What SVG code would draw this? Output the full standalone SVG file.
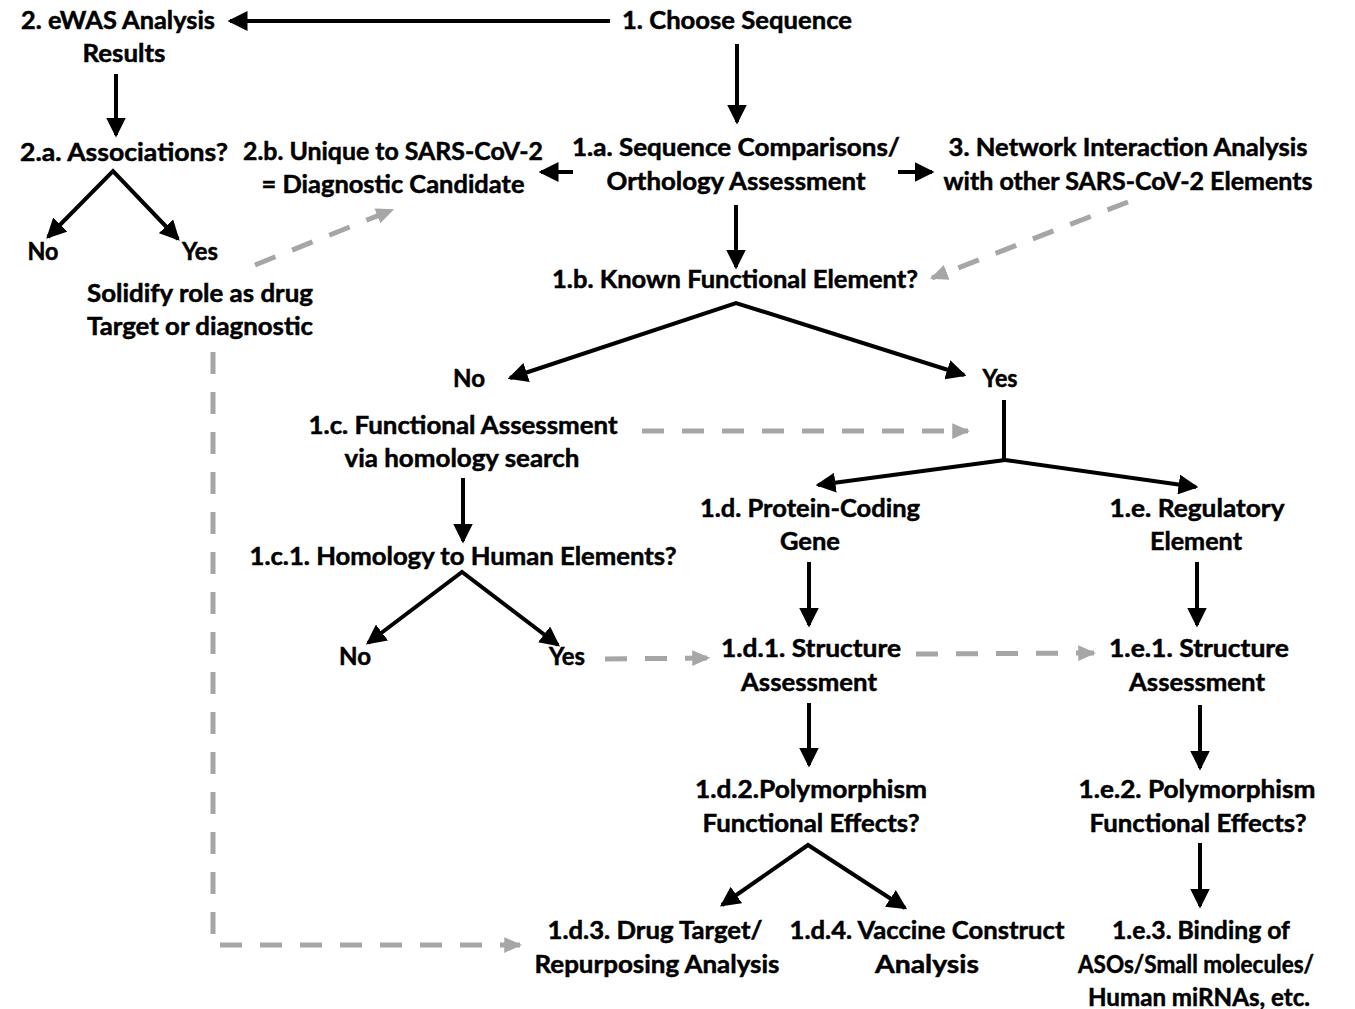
<svg xmlns="http://www.w3.org/2000/svg" width="1355" height="1009" viewBox="0 0 1355 1009">
<style>
text{font-family:Lato,"Open Sans","Liberation Sans",sans-serif;font-weight:700;font-size:25px;fill:#000;stroke:#000;stroke-width:0.5;text-anchor:middle}
.k{stroke:#000;stroke-width:4;fill:none;marker-end:url(#ak)}
.k2{stroke:#000;stroke-width:4;fill:none;stroke-linejoin:miter;marker-start:url(#aks);marker-end:url(#ak)}
.kn{stroke:#000;stroke-width:4;fill:none}
.g{stroke:#a6a6a6;stroke-width:5;fill:none;stroke-dasharray:22 18;marker-end:url(#ag)}
</style>
<defs>
<marker id="ak" markerUnits="userSpaceOnUse" markerWidth="20" markerHeight="20" viewBox="0 0 16 16" refX="14" refY="8" orient="auto"><path d="M0,0 L16,8 L0,16 Z" fill="#000"/></marker>
<marker id="aks" markerUnits="userSpaceOnUse" markerWidth="20" markerHeight="20" viewBox="0 0 16 16" refX="14" refY="8" orient="auto-start-reverse"><path d="M0,0 L16,8 L0,16 Z" fill="#000"/></marker>
<marker id="ag" markerUnits="userSpaceOnUse" markerWidth="18" markerHeight="18" viewBox="0 0 16 16" refX="14" refY="8" orient="auto"><path d="M0,1 L16,8 L0,15 Z" fill="#a6a6a6"/></marker>
</defs>
<g id="connectors">
<line class="k" x1="610" y1="21" x2="230" y2="21"/>
<line class="k" x1="737" y1="44" x2="737" y2="122"/>
<line class="k" x1="573" y1="172" x2="541" y2="172"/>
<line class="k" x1="898" y1="172" x2="932" y2="172"/>
<line class="k" x1="116" y1="74" x2="116" y2="135"/>
<path class="k2" d="M48,237 L113,171 L178,239"/>
<line class="g" x1="255" y1="265" x2="392" y2="210"/>
<line class="k" x1="736" y1="205" x2="736" y2="267"/>
<line class="g" x1="1128" y1="202" x2="932" y2="278"/>
<path class="k2" d="M510,378 L736,303 L964,375"/>
<line class="g" x1="642" y1="431" x2="968" y2="431"/>
<line class="kn" x1="1004" y1="400" x2="1004" y2="461"/>
<line class="k" x1="1005" y1="460" x2="818" y2="485"/>
<line class="k" x1="1005" y1="460" x2="1196" y2="487"/>
<line class="k" x1="463" y1="478" x2="463" y2="541"/>
<path class="k2" d="M368,643 L462,572 L558,645"/>
<line class="g" x1="605" y1="659" x2="708" y2="658"/>
<line class="k" x1="809" y1="562" x2="809" y2="625"/>
<line class="g" x1="916" y1="654" x2="1094" y2="653"/>
<line class="k" x1="1197" y1="562" x2="1197" y2="625"/>
<line class="k" x1="809" y1="703" x2="809" y2="765"/>
<line class="k" x1="1200" y1="705" x2="1200" y2="768"/>
<path class="k2" d="M722,905 L808,845 L905,908"/>
<line class="k" x1="1200" y1="843" x2="1200" y2="906"/>
<polyline class="g" points="213,352 213,945 520,945"/>
</g>
<g id="n2"><text x="118" y="29" textLength="194" lengthAdjust="spacingAndGlyphs">2. eWAS Analysis</text><text x="124" y="62" textLength="83" lengthAdjust="spacingAndGlyphs">Results</text></g>
<g id="n1"><text x="737" y="29" textLength="230" lengthAdjust="spacingAndGlyphs">1. Choose Sequence</text></g>
<g id="n1a"><text x="736" y="156" textLength="328" lengthAdjust="spacingAndGlyphs">1.a. Sequence Comparisons/</text><text x="736" y="190" textLength="259" lengthAdjust="spacingAndGlyphs">Orthology Assessment</text></g>
<g id="n2b"><text x="393" y="160" textLength="300" lengthAdjust="spacingAndGlyphs">2.b. Unique to SARS-CoV-2</text><text x="393" y="193" textLength="263" lengthAdjust="spacingAndGlyphs">= Diagnostic Candidate</text></g>
<g id="n3"><text x="1128" y="156" textLength="359" lengthAdjust="spacingAndGlyphs">3. Network Interaction Analysis</text><text x="1128" y="190" textLength="369" lengthAdjust="spacingAndGlyphs">with other SARS-CoV-2 Elements</text></g>
<g id="n2a"><text x="124" y="161" textLength="208" lengthAdjust="spacingAndGlyphs">2.a. Associations?</text></g>
<g id="n2aNo"><text x="43" y="260" textLength="31" lengthAdjust="spacingAndGlyphs">No</text></g>
<g id="n2aYes"><text x="200" y="260" textLength="36" lengthAdjust="spacingAndGlyphs">Yes</text></g>
<g id="nSolid"><text x="200" y="302" textLength="226" lengthAdjust="spacingAndGlyphs">Solidify role as drug</text><text x="200" y="335" textLength="226" lengthAdjust="spacingAndGlyphs">Target or diagnostic</text></g>
<g id="n1b"><text x="735" y="288" textLength="366" lengthAdjust="spacingAndGlyphs">1.b. Known Functional Element?</text></g>
<g id="n1bNo"><text x="469" y="387" textLength="32" lengthAdjust="spacingAndGlyphs">No</text></g>
<g id="n1bYes"><text x="1000" y="387" textLength="35" lengthAdjust="spacingAndGlyphs">Yes</text></g>
<g id="n1c"><text x="463" y="434" textLength="309" lengthAdjust="spacingAndGlyphs">1.c. Functional Assessment</text><text x="462" y="467" textLength="235" lengthAdjust="spacingAndGlyphs">via homology search</text></g>
<g id="n1d"><text x="810" y="517" textLength="220" lengthAdjust="spacingAndGlyphs">1.d. Protein-Coding</text><text x="810" y="550" textLength="60" lengthAdjust="spacingAndGlyphs">Gene</text></g>
<g id="n1e"><text x="1197" y="517" textLength="175" lengthAdjust="spacingAndGlyphs">1.e. Regulatory</text><text x="1196" y="550" textLength="92" lengthAdjust="spacingAndGlyphs">Element</text></g>
<g id="n1c1"><text x="463" y="565" textLength="427" lengthAdjust="spacingAndGlyphs">1.c.1. Homology to Human Elements?</text></g>
<g id="n1c1No"><text x="355" y="665" textLength="32" lengthAdjust="spacingAndGlyphs">No</text></g>
<g id="n1c1Yes"><text x="567" y="665" textLength="36" lengthAdjust="spacingAndGlyphs">Yes</text></g>
<g id="n1d1"><text x="811" y="657" textLength="180" lengthAdjust="spacingAndGlyphs">1.d.1. Structure</text><text x="809" y="691" textLength="136" lengthAdjust="spacingAndGlyphs">Assessment</text></g>
<g id="n1e1"><text x="1199" y="657" textLength="180" lengthAdjust="spacingAndGlyphs">1.e.1. Structure</text><text x="1197" y="691" textLength="136" lengthAdjust="spacingAndGlyphs">Assessment</text></g>
<g id="n1d2"><text x="811" y="798" textLength="232" lengthAdjust="spacingAndGlyphs">1.d.2.Polymorphism</text><text x="811" y="832" textLength="217" lengthAdjust="spacingAndGlyphs">Functional Effects?</text></g>
<g id="n1e2"><text x="1197" y="798" textLength="237" lengthAdjust="spacingAndGlyphs">1.e.2. Polymorphism</text><text x="1198" y="832" textLength="217" lengthAdjust="spacingAndGlyphs">Functional Effects?</text></g>
<g id="n1d3"><text x="655" y="939" textLength="215" lengthAdjust="spacingAndGlyphs">1.d.3. Drug Target/</text><text x="657" y="973" textLength="245" lengthAdjust="spacingAndGlyphs">Repurposing Analysis</text></g>
<g id="n1d4"><text x="927" y="939" textLength="275" lengthAdjust="spacingAndGlyphs">1.d.4. Vaccine Construct</text><text x="927" y="973" textLength="104" lengthAdjust="spacingAndGlyphs">Analysis</text></g>
<g id="n1e3"><text x="1201" y="939" textLength="178" lengthAdjust="spacingAndGlyphs">1.e.3. Binding of</text><text x="1196" y="973" textLength="236" lengthAdjust="spacingAndGlyphs">ASOs/Small molecules/</text><text x="1199" y="1006" textLength="222" lengthAdjust="spacingAndGlyphs">Human miRNAs, etc.</text></g>
</svg>
